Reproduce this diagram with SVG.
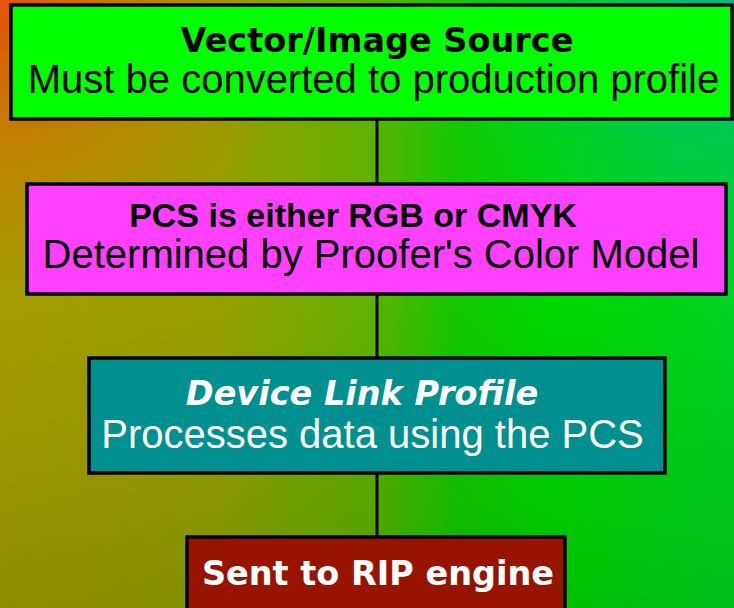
<svg xmlns="http://www.w3.org/2000/svg" width="734" height="608" viewBox="0 0 734 608">
<defs>
<linearGradient id="bgH" x1="0" y1="0" x2="1" y2="0">
<stop offset="0" stop-color="#A69C00"/>
<stop offset="0.3" stop-color="#96A000"/>
<stop offset="0.5" stop-color="#62B000"/>
<stop offset="0.62" stop-color="#14C800"/>
<stop offset="0.75" stop-color="#00D800"/>
<stop offset="1" stop-color="#00D420"/>
</linearGradient>
<radialGradient id="orange" cx="0" cy="0" r="300" gradientUnits="userSpaceOnUse">
<stop offset="0" stop-color="#EA5000" stop-opacity="1"/>
<stop offset="0.5" stop-color="#D07000" stop-opacity="0.6"/>
<stop offset="1" stop-color="#C08000" stop-opacity="0"/>
</radialGradient>
<radialGradient id="teal" cx="734" cy="0" r="320" gradientUnits="userSpaceOnUse">
<stop offset="0" stop-color="#00B890" stop-opacity="0.9"/>
<stop offset="1" stop-color="#00C860" stop-opacity="0"/>
</radialGradient>
<linearGradient id="dark" x1="0" y1="0" x2="0" y2="1">
<stop offset="0.5" stop-color="#003000" stop-opacity="0"/>
<stop offset="1" stop-color="#003000" stop-opacity="0.14"/>
</linearGradient>
</defs>
<style>
.box{stroke:#000;stroke-width:3.5}
.bold{font-family:Verdana,"DejaVu Sans",sans-serif;font-weight:bold;font-size:33.5px;text-anchor:middle}
.reg{font-family:"Liberation Sans",Arial,Helvetica,sans-serif;font-size:40px;text-anchor:middle}
.hb{font-family:"Liberation Sans",Arial,Helvetica,sans-serif;font-weight:bold;font-size:34px;text-anchor:middle}
.conn{stroke:#000;stroke-width:3;fill:none}
</style>
<rect x="0" y="0" width="734" height="608" fill="url(#bgH)"/>
<rect x="0" y="0" width="734" height="608" fill="url(#orange)"/>
<rect x="0" y="0" width="734" height="608" fill="url(#teal)"/>
<rect x="0" y="0" width="734" height="608" fill="url(#dark)"/>
<g id="connectors">
<line class="conn" x1="377" y1="119" x2="377" y2="184"/>
<line class="conn" x1="377" y1="294" x2="377" y2="358"/>
<line class="conn" x1="377" y1="473" x2="377" y2="537"/>
</g>
<g id="source">
<rect class="box" x="11" y="5" width="721" height="114" fill="#00FF00"/>
<text class="bold" x="377" y="52">Vector/Image Source</text>
<text class="reg" x="373.5" y="93">Must be converted to production profile</text>
</g>
<g id="pcs">
<rect class="box" x="27" y="184" width="699" height="110" fill="#FF40FF"/>
<text class="hb" x="353" y="227">PCS is either RGB or CMYK</text>
<text class="reg" x="371" y="268">Determined by Proofer's Color Model</text>
</g>
<g id="devicelink">
<rect class="box" x="89" y="358" width="576" height="115" fill="#009090"/>
<text class="bold" x="362" y="405" fill="#FFFFFF" font-style="italic">Device Link Profile</text>
<text class="reg" x="372.5" y="448" fill="#FFFFFF">Processes data using the PCS</text>
</g>
<g id="rip">
<rect class="box" x="187" y="537" width="378" height="80" fill="#961400"/>
<text class="bold" x="378" y="585" fill="#FFFFFF">Sent to RIP engine</text>
</g>
</svg>
